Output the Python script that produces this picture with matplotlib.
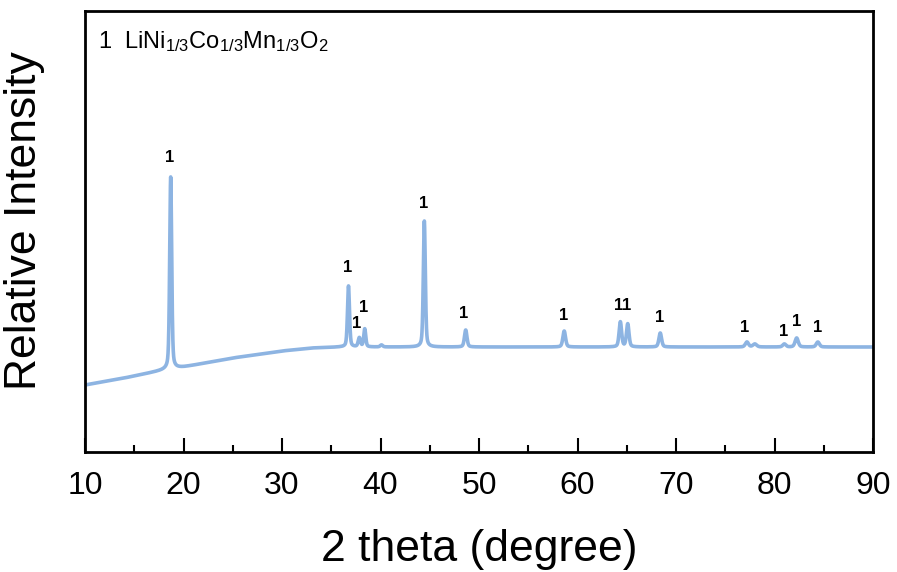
import numpy as np
import matplotlib
matplotlib.use("Agg")
import matplotlib.pyplot as plt
from matplotlib.ticker import MultipleLocator

plt.rcParams['font.family'] = ['Liberation Sans', 'DejaVu Sans']
plt.rcParams['mathtext.fontset'] = 'custom'
plt.rcParams['mathtext.rm'] = 'Liberation Sans'
plt.rcParams['mathtext.it'] = 'Liberation Sans'

# background (2 theta, intensity)
bg_x = [10, 14, 18, 20, 25, 30, 33, 36, 40, 50, 60, 70, 80, 90]
bg_y = [67, 74, 82, 85, 94, 101, 104, 105, 105, 105, 105, 105, 105, 105]

# reflections: position, net height, fwhm
peak_pos = [18.7, 36.75, 37.85, 38.4, 40.1, 44.45, 48.65, 58.65, 64.35, 65.1, 68.4, 77.2, 78.0, 81.0, 82.25, 84.4]
peak_h = [192, 61, 9, 18, 2, 126, 17, 16, 25, 23, 14, 5, 3, 3, 9, 5]
peak_w = [0.24, 0.24, 0.27, 0.24, 0.3, 0.24, 0.3, 0.32, 0.3, 0.3, 0.32, 0.38, 0.45, 0.38, 0.38, 0.38]

# peak markers "1"
label_x = [18.6, 36.7, 37.6, 38.3, 44.4, 48.4, 58.6, 64.2, 65.0, 68.3, 77.0, 80.9, 82.2, 84.4]
label_y = [294, 184, 129, 145, 249, 139, 136, 147, 147, 134, 125, 121, 130, 124]

tt = np.arange(10, 90.001, 0.01)
inten = np.interp(tt, bg_x, bg_y)
for p, h, w in zip(peak_pos, peak_h, peak_w):
    lor = 1.0 / (1.0 + ((tt - p) / (w / 2)) ** 2)
    gau = np.exp(-4 * np.log(2) * ((tt - p) / w) ** 2)
    inten = inten + h * (0.6 * gau + 0.4 * lor)

fig = plt.figure(figsize=(8.97, 5.72), dpi=100)
ax = fig.add_axes([85 / 897, 120 / 572, 788 / 897, 441 / 572])

ax.plot(tt, inten, color='#8DB4E2', lw=2.6)

for x, y in zip(label_x, label_y):
    ax.text(x, y, '1', fontsize=12, fontweight='bold', ha='center', va='center')

ax.text(0.017, 0.93, r'1  $\mathrm{LiNi_{1/3}Co_{1/3}Mn_{1/3}O_2}$', transform=ax.transAxes,
        fontsize=17, ha='left', va='center')

ax.set_xlim(10, 90)
ax.set_ylim(0, 441)
ax.xaxis.set_major_locator(MultipleLocator(10))
ax.xaxis.set_minor_locator(MultipleLocator(5))
ax.tick_params(axis='x', which='major', direction='in', length=10, width=1.5, labelsize=23, pad=14)
ax.tick_params(axis='x', which='minor', direction='in', length=5, width=1.5)
ax.tick_params(axis='x', top=False)
ax.set_yticks([])
for s in ax.spines.values():
    s.set_linewidth(2)

ax.set_xlabel('2 theta (degree)', fontsize=32, labelpad=20)
ax.set_ylabel('Relative Intensity', fontsize=32)
ax.yaxis.set_label_coords(-0.051, 0.525)

fig.savefig('out.png', dpi=100)
